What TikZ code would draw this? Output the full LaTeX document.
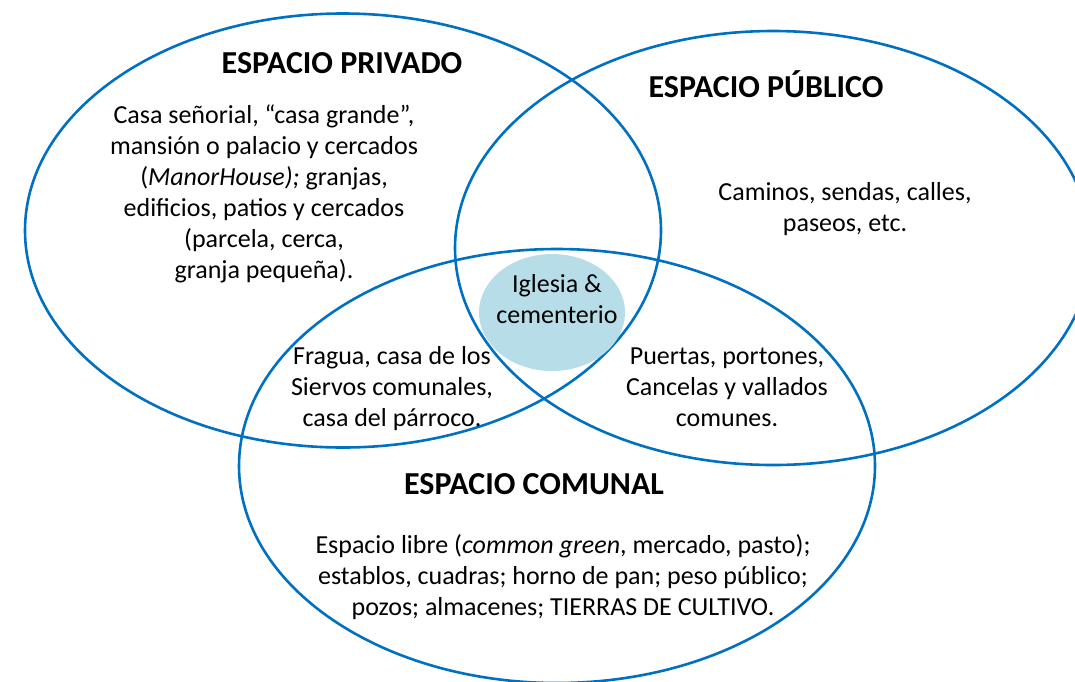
\documentclass[tikz,border=0pt]{standalone}
\usepackage{fontspec}
\setmainfont{Carlito}
\usetikzlibrary{shapes.geometric}
\definecolor{ringblue}{HTML}{0070C0}
\definecolor{churchfill}{HTML}{B7DEE8}
\begin{document}
\begin{tikzpicture}[x=1pt,y=-1pt,
  ring/.style={draw=ringblue, line width=2.6pt, ellipse, minimum width=636pt, minimum height=434pt, inner sep=0pt},
  titletext/.style={font=\fontsize{32}{38}\selectfont\bfseries, inner sep=0pt, anchor=base},
  bodytext/.style={font=\fontsize{26}{31}\selectfont, align=center, inner sep=0pt, anchor=base}]
\useasboundingbox (0,0) rectangle (1075,681);
\clip (0,0) rectangle (1075,681);
\node[ring] (priv) at (343,230.5) {};
\node[ring] (pub) at (773,248) {};
\node[ring] (com) at (557,466) {};
\node[ellipse, fill=churchfill, minimum width=146pt, minimum height=117pt, inner sep=0pt] (church) at (552,312.5) {};
\node[titletext] (privtitle) at (342,73) {ESPACIO PRIVADO};
\node[titletext] (pubtitle) at (766,97) {ESPACIO PÚBLICO};
\node[titletext] (comtitle) at (534,494) {ESPACIO COMUNAL};
\node[bodytext] (privbody) at (264,278) {Casa señorial, “casa grande”,\\mansión o palacio y cercados\\(\textit{ManorHouse);} granjas,\\edificios, patios y cercados\\(parcela, cerca,\\granja pequeña).};
\node[bodytext] (pubbody) at (845,231) {Caminos, sendas, calles,\\paseos, etc.};
\node[bodytext] (churchtext) at (557,323) {Iglesia \&\\cementerio};
\node[bodytext] (privcom) at (392,426.7) {Fragua, casa de los\\Siervos comunales,\\casa del párroco.};
\node[bodytext] (pubcom) at (727,426.7) {Puertas, portones,\\Cancelas y vallados\\comunes.};
\node[bodytext] (combody) at (563,615) {Espacio libre (\textit{common green}, mercado, pasto);\\establos, cuadras; horno de pan; peso público;\\pozos; almacenes; TIERRAS DE CULTIVO.};
\end{tikzpicture}
\end{document}
